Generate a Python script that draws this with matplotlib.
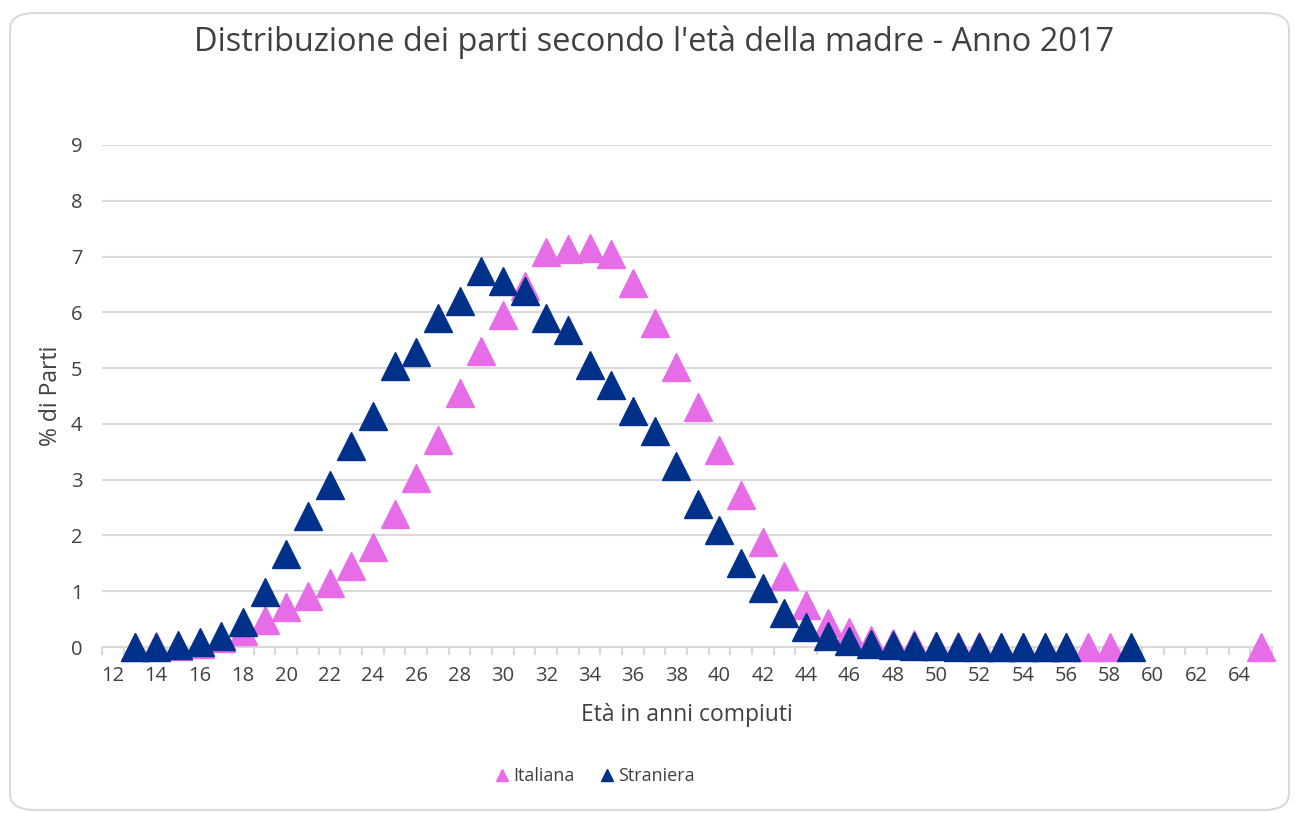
import numpy as np
import matplotlib
matplotlib.use("Agg")
import matplotlib.pyplot as plt
from matplotlib.patches import FancyBboxPatch

plt.rcParams['font.family'] = ['Open Sans', 'DejaVu Sans']

# === Data ===
ages = list(range(13, 66))
nan = np.nan
italiana = [0.00, 0.01, 0.02, 0.06, 0.16, 0.29, 0.48, 0.71, 0.91, 1.14,
            1.45, 1.80, 2.38, 3.03, 3.72, 4.56, 5.30, 5.95, 6.47, 7.09,
            7.13, 7.16, 7.04, 6.53, 5.81, 5.02, 4.31, 3.54, 2.72, 1.88,
            1.27, 0.75, 0.43, 0.26, 0.13, 0.08, 0.05, 0.02, 0.01, 0.01,
            0.00, 0.00, 0.00, 0.00, 0.00, 0.00,
            nan, nan, nan, nan, nan, nan, 0.00]
straniera = [0.00, 0.00, 0.04, 0.09, 0.20, 0.45, 0.98, 1.67, 2.34, 2.91,
             3.60, 4.15, 5.03, 5.29, 5.90, 6.20, 6.74, 6.56, 6.38, 5.89,
             5.68, 5.06, 4.70, 4.23, 3.87, 3.24, 2.57, 2.09, 1.51, 1.06,
             0.61, 0.36, 0.20, 0.11, 0.06, 0.03, 0.02, 0.01, 0.00, 0.00,
             0.00, 0.00, 0.00, 0.00, nan, nan, 0.00,
             nan, nan, nan, nan, nan, nan]
x_labels = list(range(12, 65, 2))
y_ticks = list(range(0, 10))

pink = '#E66CE8'
navy = '#00318A'
grid_col = '#D9D9D9'
text_col = '#404040'

fig = plt.figure(figsize=(12.95, 8.13), dpi=100)

# rounded chart frame
frame = FancyBboxPatch((10 / 1295, 3 / 813), 1279 / 1295, 797 / 813,
                       boxstyle="round,pad=0,rounding_size=0.02",
                       transform=fig.transFigure, facecolor='white',
                       edgecolor=grid_col, linewidth=1.5, zorder=-10)
fig.patches.append(frame)

ax = fig.add_axes([102 / 1295, 1 - 647 / 813, 1170 / 1295, 502 / 813])
ax.set_facecolor('none')

ax.plot(ages, italiana, linestyle='none', marker='^', ms=19.5,
        color=pink, mec=pink, clip_on=False, label='Italiana', zorder=3)
ax.plot(ages, straniera, linestyle='none', marker='^', ms=19.5,
        color=navy, mec=navy, clip_on=False, label='Straniera', zorder=4)

ax.set_xlim(11.5, 65.5)
ax.set_ylim(0, 9)
ax.set_yticks(y_ticks)
ax.set_xticks(x_labels)
ax.set_xticks(np.arange(11.5, 66, 1), minor=True)
ax.tick_params(axis='both', which='major', length=0, labelsize=14.5,
               labelcolor=text_col)
ax.tick_params(axis='y', which='major', pad=14)
ax.tick_params(axis='x', which='minor', length=6, width=1.5, color=grid_col)
ax.tick_params(axis='x', which='major', pad=14)

ax.grid(axis='y', color=grid_col, linewidth=1.5, zorder=0)
ax.set_axisbelow(True)
for s in ['top', 'right', 'left']:
    ax.spines[s].set_visible(False)
ax.spines['bottom'].set_color(grid_col)
ax.spines['bottom'].set_linewidth(1.5)

ax.set_xlabel("Età in anni compiuti", fontsize=16.5, color=text_col, labelpad=12)
ax.set_ylabel("% di Parti", fontsize=16.5, color=text_col, labelpad=6)

fig.text(0.505, 1 - 42 / 813,
         "Distribuzione dei parti secondo l'età della madre - Anno 2017",
         ha='center', va='center', fontsize=23.4, color='#404040')

handles, labels = ax.get_legend_handles_labels()
leg = fig.legend(handles, labels, loc='center', bbox_to_anchor=(594 / 1295, 1 - 776 / 813),
                 ncol=2, frameon=False, markerscale=0.45, fontsize=13,
                 handletextpad=0.1, columnspacing=1.3, handlelength=1.0)
for t in leg.get_texts():
    t.set_color(text_col)

fig.savefig('out.png', dpi=100)
